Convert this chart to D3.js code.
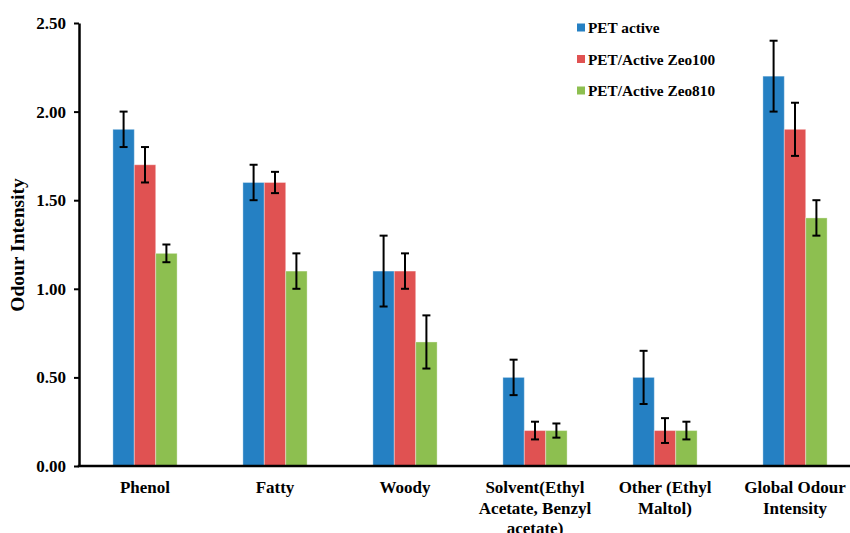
<!DOCTYPE html>
<html>
<head>
<meta charset="utf-8">
<script src="https://cdn.jsdelivr.net/npm/d3@7"></script>
<style>
  html, body { margin: 0; padding: 0; background: #fff; }
  svg { display: block; font-family: "Liberation Serif", "Times New Roman", serif; font-weight: bold; }
</style>
</head>
<body>
<svg id="chart" width="850" height="533"></svg>
<script>
// Odour intensity by descriptor for the three packaging variants
const categories = [
  ["Phenol"],
  ["Fatty"],
  ["Woody"],
  ["Solvent(Ethyl", "Acetate, Benzyl", "acetate)"],
  ["Other (Ethyl", "Maltol)"],
  ["Global Odour", "Intensity"]
];
const seriesNames = ["PET active", "PET/Active Zeo100", "PET/Active Zeo810"];
const petActive   = [1.9, 1.6, 1.1, 0.5, 0.5, 2.2];
const zeo100      = [1.7, 1.6, 1.1, 0.2, 0.2, 1.9];
const zeo810      = [1.2, 1.1, 0.7, 0.2, 0.2, 1.4];
const petActiveErr = [0.10, 0.10, 0.20, 0.10, 0.15, 0.20];
const zeo100Err    = [0.10, 0.06, 0.10, 0.05, 0.07, 0.15];
const zeo810Err    = [0.05, 0.10, 0.15, 0.04, 0.05, 0.10];
const yTicks = [0, 0.5, 1.0, 1.5, 2.0, 2.5];
const colors = ["#2580c3", "#e05252", "#8dbf50"];

const series = [
  { name: seriesNames[0], values: petActive, errors: petActiveErr, color: colors[0] },
  { name: seriesNames[1], values: zeo100, errors: zeo100Err, color: colors[1] },
  { name: seriesNames[2], values: zeo810, errors: zeo810Err, color: colors[2] }
];

const svg = d3.select("#chart");
const axisX = 79, axisY = 466, axisTop = 23;

const x0 = d3.scaleBand()
  .domain(d3.range(categories.length))
  .range([80, 860])
  .paddingInner(0.506)
  .paddingOuter(0.253);
const x1 = d3.scaleBand()
  .domain(d3.range(series.length))
  .range([0, x0.bandwidth()]);
const y = d3.scaleLinear().domain([0, 2.5]).range([axisY, axisTop]);

// bars
const groups = svg.append("g").selectAll("g")
  .data(series)
  .join("g");

groups.selectAll("rect")
  .data((s, si) => s.values.map((v, i) => ({ v, i, si, color: s.color })))
  .join("rect")
  .attr("x", d => x0(d.i) + x1(d.si))
  .attr("y", d => y(d.v))
  .attr("width", x1.bandwidth())
  .attr("height", d => y(0) - y(d.v))
  .attr("fill", d => d.color)
  .attr("stroke", "#ffffff")
  .attr("stroke-opacity", 0.35)
  .attr("stroke-width", 1);

// error bars
const errData = [];
series.forEach((s, si) => s.values.forEach((v, i) => errData.push({ v, e: s.errors[i], i, si })));
const eb = svg.append("g").attr("stroke", "#000").attr("stroke-width", 2);
const cx = d => x0(d.i) + x1(d.si) + x1.bandwidth() / 2;
eb.selectAll("line.v").data(errData).join("line")
  .attr("class", "v")
  .attr("x1", cx).attr("x2", cx)
  .attr("y1", d => y(d.v + d.e)).attr("y2", d => y(d.v - d.e));
eb.selectAll("line.t").data(errData).join("line")
  .attr("class", "t")
  .attr("x1", d => cx(d) - 4).attr("x2", d => cx(d) + 4)
  .attr("y1", d => y(d.v + d.e)).attr("y2", d => y(d.v + d.e));
eb.selectAll("line.b").data(errData).join("line")
  .attr("class", "b")
  .attr("x1", d => cx(d) - 4).attr("x2", d => cx(d) + 4)
  .attr("y1", d => y(d.v - d.e)).attr("y2", d => y(d.v - d.e));

// y axis
const yAxis = svg.append("g")
  .attr("transform", `translate(${axisX},0)`)
  .call(d3.axisLeft(y).tickValues(yTicks).tickFormat(d3.format(".2f")).tickSize(5).tickPadding(8).tickSizeOuter(0));
yAxis.select(".domain").attr("stroke", "#000").attr("stroke-width", 2.5);
yAxis.selectAll(".tick line").attr("stroke", "#000").attr("stroke-width", 2);
yAxis.selectAll(".tick text")
  .attr("fill", "#000")
  .style("font-family", "'Liberation Serif', serif")
  .style("font-weight", "bold")
  .style("font-size", "17px");

// x axis line
svg.append("line")
  .attr("x1", axisX - 1.25).attr("x2", 850)
  .attr("y1", axisY).attr("y2", axisY)
  .attr("stroke", "#000").attr("stroke-width", 2.5);

// category labels
const xl = svg.append("g").selectAll("text")
  .data(categories)
  .join("text")
  .attr("text-anchor", "middle")
  .attr("font-size", "17px")
  .attr("fill", "#000");
xl.selectAll("tspan")
  .data((lines, i) => lines.map(l => ({ l, i })))
  .join("tspan")
  .attr("x", d => x0(d.i) + x0.bandwidth() / 2)
  .attr("y", (d, k) => 493 + k * 20.5)
  .text(d => d.l);

// y title
svg.append("text")
  .attr("transform", `translate(24,245) rotate(-90)`)
  .attr("text-anchor", "middle")
  .attr("font-size", "19.5px")
  .attr("fill", "#000")
  .text("Odour Intensity");

// legend
const legend = svg.append("g").selectAll("g")
  .data(series)
  .join("g")
  .attr("transform", (d, i) => `translate(577,${28 + i * 31.5})`);
legend.append("rect")
  .attr("x", 0).attr("y", -4.5).attr("width", 8).attr("height", 8)
  .attr("fill", d => d.color);
legend.append("text")
  .attr("x", 11).attr("y", 5)
  .attr("font-size", "15.3px")
  .attr("fill", "#000")
  .text(d => d.name);
</script>
</body>
</html>
